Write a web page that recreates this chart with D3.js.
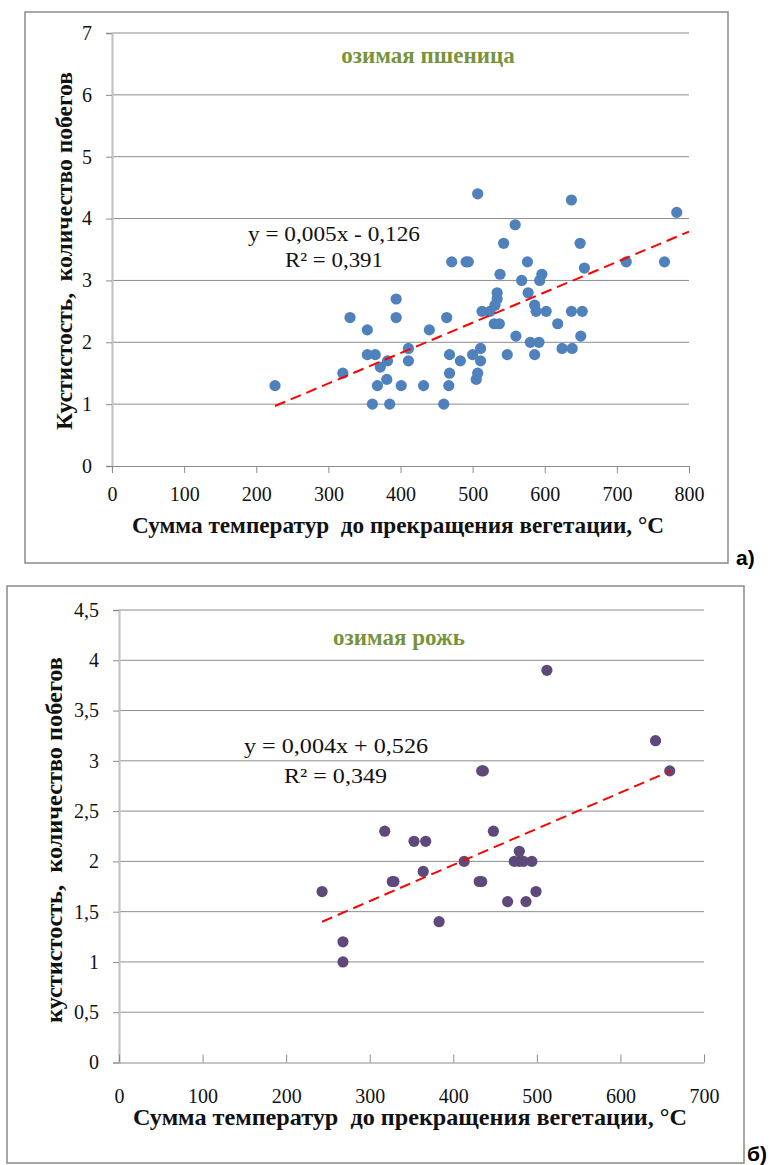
<!DOCTYPE html>
<html>
<head>
<meta charset="utf-8">
<script src="https://cdn.jsdelivr.net/npm/d3@7"></script>
<style>
  body { margin: 0; background: #fff; }
  svg text { font-family: "Liberation Serif", "Times New Roman", serif; white-space: pre; }
</style>
</head>
<body>
<div id="chart"></div>
<script>
// Winter wheat (а)
const wheatX = [226,320,330,354,354,365,382,372,368,381,361,385,394,394,401,432,411,411,440,464,
  468,468,467,460,483,471,491,494,507,500,511,511,507,505,513,524,531,534,534,530,
  537,538,543,559,548,560,568,576,577,586,588,602,593,596,580,592,586,618,624,638,
  637,637,652,649,655,650,713,766,783];
const wheatY = [1.3,1.5,2.4,2.2,1.8,1.8,1.7,1.6,1.3,1.4,1.0,1.0,2.7,2.4,1.3,1.3,1.9,1.7,2.2,2.4,
  1.8,1.5,1.3,1.0,1.7,3.3,3.3,3.3,4.4,1.8,1.9,1.7,1.5,1.4,2.5,2.5,2.6,2.7,2.8,2.3,
  2.3,3.1,3.6,3.9,1.8,2.1,3.0,3.3,2.8,2.6,2.5,2.5,3.0,3.1,2.0,2.0,1.8,2.3,1.9,1.9,
  4.3,2.5,2.5,3.6,3.2,2.1,3.3,3.3,4.1];
const wheatTrendX = [226, 800];
const wheatTrendY = [0.97, 3.79];
const wheatXTicks = [0,100,200,300,400,500,600,700,800];
const wheatYTicks = [0,1,2,3,4,5,6,7];

// Winter rye (б)
const ryeX = [243,268,268,318,327,329,353,367,364,383,413,431,434,434,436,448,465,473,479,479,
  484,487,494,499,512,642,659];
const ryeY = [1.7,1.2,1.0,2.3,1.8,1.8,2.2,2.2,1.9,1.4,2.0,1.8,1.8,2.9,2.9,2.3,1.6,2.0,2.1,2.0,
  2.0,1.6,2.0,1.7,3.9,3.2,2.9];
const ryeTrendX = [243, 660];
const ryeTrendY = [1.40, 2.90];
const ryeXTicks = [0,100,200,300,400,500,600,700];
const ryeYTicks = [0,0.5,1,1.5,2,2.5,3,3.5,4,4.5];

const xTitle = "Сумма температур  до прекращения вегетации, °С";
const yTitleTop = "Кустистость,  количество побегов";
const yTitleBottom = "кустистость,  количество побегов";

const svg = d3.select("#chart").append("svg")
  .attr("width", 776)
  .attr("height", 1165);

const fmt = d => String(d).replace(".", ",");
const serif = "'Liberation Serif', 'Times New Roman', serif";

function drawPanel(p) {
  // outer frame
  svg.append("rect")
    .attr("x", p.frame[0]).attr("y", p.frame[1])
    .attr("width", p.frame[2] - p.frame[0]).attr("height", p.frame[3] - p.frame[1])
    .attr("fill", "none").attr("stroke", "#8a8a8a").attr("stroke-width", 1.5);

  const x = d3.scaleLinear().domain(p.xDomain).range([p.left, p.right]);
  const y = d3.scaleLinear().domain(p.yDomain).range([p.bottom, p.top]);

  // horizontal gridlines
  svg.append("g").selectAll("line")
    .data(p.yTicks.filter(d => d > 0))
    .join("line")
    .attr("x1", p.left).attr("x2", p.right)
    .attr("y1", d => y(d)).attr("y2", d => y(d))
    .attr("stroke", "#8c8c8c").attr("stroke-width", 1);

  // y axis
  const yAxis = svg.append("g")
    .attr("transform", `translate(${p.left},0)`)
    .call(d3.axisLeft(y).tickValues(p.yTicks).tickFormat(fmt).tickSize(6).tickPadding(14));
  yAxis.select(".domain").attr("stroke", "#c4c4c4").attr("stroke-width", 2.2);
  yAxis.selectAll(".tick line").attr("stroke", "#8c8c8c");
  yAxis.selectAll("text")
    .style("font-family", serif)
    .style("font-size", "20px").attr("fill", "#111");

  // x axis
  const xAxis = svg.append("g")
    .attr("transform", `translate(0,${p.bottom})`)
    .call((p.ticksUp ? d3.axisBottom(x).tickSizeInner(-8) : d3.axisBottom(x).tickSizeInner(7))
      .tickValues(p.xTicks).tickSizeOuter(0).tickPadding(p.ticksUp ? 26 : 14));
  xAxis.select(".domain").attr("stroke", "#8c8c8c");
  xAxis.selectAll(".tick line").attr("stroke", "#8c8c8c");
  xAxis.selectAll("text")
    .style("font-family", serif)
    .style("font-size", "20px").attr("fill", "#111");

  // points
  svg.append("g").selectAll("circle")
    .data(p.xs.map((v, i) => [v, p.ys[i]]))
    .join("circle")
    .attr("cx", d => x(d[0]))
    .attr("cy", d => y(d[1]))
    .attr("r", 5.6)
    .attr("fill", p.color);

  // trend line
  svg.append("line")
    .attr("x1", x(p.trendX[0])).attr("y1", y(p.trendY[0]))
    .attr("x2", x(p.trendX[1])).attr("y2", y(p.trendY[1]))
    .attr("stroke", "#ff0000").attr("stroke-width", 2)
    .attr("stroke-dasharray", "11,6");

  // crop title
  svg.append("text")
    .attr("x", p.titlePos[0]).attr("y", p.titlePos[1])
    .attr("text-anchor", "middle")
    .attr("font-weight", "bold").attr("font-size", 23)
    .attr("fill", "#77933c")
    .text(p.title);

  // equation
  svg.append("text")
    .attr("x", p.eqPos[0]).attr("y", p.eqPos[1])
    .attr("font-size", 21).attr("fill", "#111")
    .attr("textLength", p.eqLen).attr("lengthAdjust", "spacingAndGlyphs")
    .text(p.eq);
  svg.append("text")
    .attr("x", p.r2Pos[0]).attr("y", p.r2Pos[1])
    .attr("font-size", 21).attr("fill", "#111")
    .attr("textLength", p.r2Len).attr("lengthAdjust", "spacingAndGlyphs")
    .text(p.r2);

  // x axis title
  svg.append("text")
    .attr("x", p.xTitlePos[0]).attr("y", p.xTitlePos[1])
    .attr("text-anchor", "middle")
    .attr("font-weight", "bold").attr("font-size", 23).attr("fill", "#111")
    .attr("textLength", p.xTitleLen).attr("lengthAdjust", "spacingAndGlyphs")
    .text(xTitle);

  // y axis title
  svg.append("text")
    .attr("transform", `translate(${p.yTitlePos[0]},${p.yTitlePos[1]}) rotate(-90)`)
    .attr("text-anchor", "middle")
    .attr("font-weight", "bold").attr("font-size", 24).attr("fill", "#111")
    .attr("textLength", p.yTitleLen).attr("lengthAdjust", "spacingAndGlyphs")
    .text(p.yTitle);

  // panel letter
  svg.append("text")
    .attr("x", p.letterPos[0]).attr("y", p.letterPos[1])
    .style("font-family", "'Liberation Sans', Arial, sans-serif")
    .attr("font-weight", "bold").attr("font-size", 21).attr("fill", "#000")
    .text(p.letter);
}

drawPanel({
  frame: [25, 12, 728, 563],
  left: 112, right: 689, top: 33, bottom: 466,
  xDomain: [0, 800], yDomain: [0, 7],
  xTicks: wheatXTicks, yTicks: wheatYTicks,
  xs: wheatX, ys: wheatY, color: "#4f81bd",
  trendX: wheatTrendX, trendY: wheatTrendY,
  title: "озимая пшеница", titlePos: [428, 63],
  eq: "y = 0,005x - 0,126", eqPos: [248, 241], eqLen: 172,
  r2: "R² = 0,391", r2Pos: [285, 267], r2Len: 98,
  xTitlePos: [398, 533], xTitleLen: 532,
  yTitle: yTitleTop, yTitlePos: [72, 251], yTitleLen: 358,
  letter: "а)", letterPos: [736, 565],
  ticksUp: false
});

drawPanel({
  frame: [7, 586, 744, 1163],
  left: 119, right: 704, top: 610, bottom: 1062.5,
  xDomain: [0, 700], yDomain: [0, 4.5],
  xTicks: ryeXTicks, yTicks: ryeYTicks,
  xs: ryeX, ys: ryeY, color: "#5f497a",
  trendX: ryeTrendX, trendY: ryeTrendY,
  title: "озимая рожь", titlePos: [399, 645],
  eq: "y = 0,004x + 0,526", eqPos: [244, 753], eqLen: 184,
  r2: "R² = 0,349", r2Pos: [284, 783], r2Len: 103,
  xTitlePos: [410, 1125], xTitleLen: 554,
  yTitle: yTitleBottom, yTitlePos: [62, 840], yTitleLen: 366,
  letter: "б)", letterPos: [747, 1161],
  ticksUp: true
});
</script>
</body>
</html>
